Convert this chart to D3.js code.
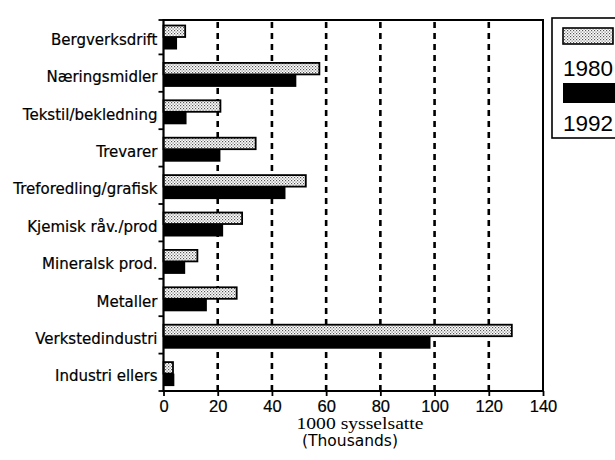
<!DOCTYPE html>
<html>
<head>
<meta charset="utf-8">
<script src="https://cdn.jsdelivr.net/npm/d3@7"></script>
<style>
  html, body { margin: 0; padding: 0; background: #fff; }
  svg { display: block; }
</style>
</head>
<body>
<svg id="chart" width="615" height="460"></svg>
<script>
const categories = ["Bergverksdrift", "Næringsmidler", "Tekstil/bekledning", "Trevarer",
  "Treforedling/grafisk", "Kjemisk råv./prod", "Mineralsk prod.", "Metaller",
  "Verkstedindustri", "Industri ellers"];
const seriesNames = ["1980", "1992"];
const values1980 = [8, 57.5, 21, 34, 52.5, 29, 12.5, 27, 128.5, 3.5];
const values1992 = [5, 49, 8.5, 21, 45, 22, 8, 16, 98.5, 4];
const xTicks = [0, 20, 40, 60, 80, 100, 120, 140];
const gridTicks = [20, 40, 60, 80, 100, 120];
const xTitle1 = "1000 sysselsatte";
const xTitle2 = "(Thousands)";

const svg = d3.select("#chart");
const pLeft = 163.5, pRight = 543, pTop = 20, pBottom = 391;
const sans = "'Liberation Sans', Arial, Helvetica, sans-serif";
const wideSans = "'DejaVu Sans', Verdana, sans-serif";

const defs = svg.append("defs");
const pat = defs.append("pattern").attr("id", "stipple")
  .attr("width", 3).attr("height", 3).attr("patternUnits", "userSpaceOnUse");
pat.append("rect").attr("width", 3).attr("height", 3).attr("fill", "#fff");
pat.append("rect").attr("x", 0).attr("y", 0).attr("width", 1.2).attr("height", 1.2).attr("fill", "#555");
pat.append("rect").attr("x", 1.5).attr("y", 1.5).attr("width", 1.2).attr("height", 1.2).attr("fill", "#777");

const x = d3.scaleLinear().domain([0, 140]).range([pLeft, pRight]);
const y = d3.scaleBand().domain(categories).range([17, pBottom]).paddingInner(0).paddingOuter(0);
const ySub = d3.scaleBand().domain(seriesNames).range([8.5, 31.5]);

// dashed gridlines
svg.append("g").selectAll("line").data(gridTicks).join("line")
  .attr("x1", d => x(d)).attr("x2", d => x(d))
  .attr("y1", pTop + 2).attr("y2", pBottom)
  .attr("stroke", "#000").attr("stroke-width", 2.6)
  .attr("stroke-dasharray", "6,5");

// bars
const rows = categories.map((c, i) => ({ c, v: [values1980[i], values1992[i]] }));
const g = svg.append("g");
rows.forEach(r => {
  g.append("rect")
    .attr("x", x(0)).attr("y", y(r.c) + ySub("1992"))
    .attr("width", x(r.v[1]) - x(0)).attr("height", ySub.bandwidth() + 1)
    .attr("fill", "#000");
  g.append("rect")
    .attr("x", x(0)).attr("y", y(r.c) + ySub("1980"))
    .attr("width", x(r.v[0]) - x(0)).attr("height", ySub.bandwidth())
    .attr("fill", "url(#stipple)").attr("stroke", "#000").attr("stroke-width", 1.8);
});

// frame top and right
svg.append("line").attr("x1", pLeft).attr("x2", pRight + 1).attr("y1", pTop).attr("y2", pTop)
  .attr("stroke", "#000").attr("stroke-width", 2);
svg.append("line").attr("x1", pRight).attr("x2", pRight).attr("y1", pTop).attr("y2", pBottom)
  .attr("stroke", "#000").attr("stroke-width", 2);

// left axis
const yBounds = categories.map(c => y(c)).concat([pBottom]).map(v => Math.max(v, pTop));
svg.append("line").attr("x1", pLeft).attr("x2", pLeft).attr("y1", pTop - 1).attr("y2", pBottom + 1)
  .attr("stroke", "#000").attr("stroke-width", 2.2);
svg.append("g").selectAll("line").data(yBounds).join("line")
  .attr("x1", pLeft - 5).attr("x2", pLeft).attr("y1", d => d).attr("y2", d => d)
  .attr("stroke", "#000").attr("stroke-width", 1.8);
const yAxis = d3.axisLeft(y).tickSize(0).tickPadding(6);
const ya = svg.append("g").attr("transform", `translate(${pLeft},0)`).call(yAxis);
ya.select(".domain").remove();
ya.selectAll("text").attr("font-family", wideSans)
  .attr("font-size", 15).attr("fill", "#000")
  .attr("stroke", "#000").attr("stroke-width", 0.2)
  .attr("dy", "0.6em");

// bottom axis
const xAxis = d3.axisBottom(x).tickValues(xTicks).tickSize(5).tickPadding(4).tickFormat(d3.format("d"));
const xa = svg.append("g").attr("transform", `translate(0,${pBottom})`).call(xAxis);
xa.select(".domain").attr("stroke-width", 2.2).attr("d", `M${pLeft},0H${pRight + 1}`);
xa.selectAll(".tick line").attr("stroke-width", 1.8);
xa.selectAll("text").attr("font-family", sans)
  .attr("font-size", 16.5).attr("fill", "#000")
  .attr("stroke", "#000").attr("stroke-width", 0.2);

// axis titles
svg.append("text").attr("x", 360).attr("y", 429).attr("text-anchor", "middle")
  .attr("font-family", "'Liberation Serif', 'Times New Roman', serif").attr("font-size", 17)
  .attr("textLength", 127).attr("lengthAdjust", "spacingAndGlyphs")
  .text(xTitle1);
svg.append("text").attr("x", 350).attr("y", 446).attr("text-anchor", "middle")
  .attr("font-family", wideSans).attr("font-size", 15.5)
  .text(xTitle2);

// legend
const lg = svg.append("g");
lg.append("rect").attr("x", 552).attr("y", 18).attr("width", 80).attr("height", 120)
  .attr("fill", "#fff").attr("stroke", "#000").attr("stroke-width", 1.6);
const legY = d3.scaleBand().domain(seriesNames).range([27, 137]);
lg.append("rect").attr("x", 563).attr("y", legY("1980") + 1).attr("width", 50).attr("height", 16)
  .attr("fill", "url(#stipple)").attr("stroke", "#000").attr("stroke-width", 1.6);
lg.append("rect").attr("x", 563).attr("y", legY("1992") + 1).attr("width", 52).attr("height", 20)
  .attr("fill", "#000");
seriesNames.forEach(s => {
  lg.append("text").attr("x", 563).attr("y", legY(s) + 49)
    .attr("font-family", sans).attr("font-size", 22.5)
    .attr("fill", "#000").text(s);
});
</script>
</body>
</html>
